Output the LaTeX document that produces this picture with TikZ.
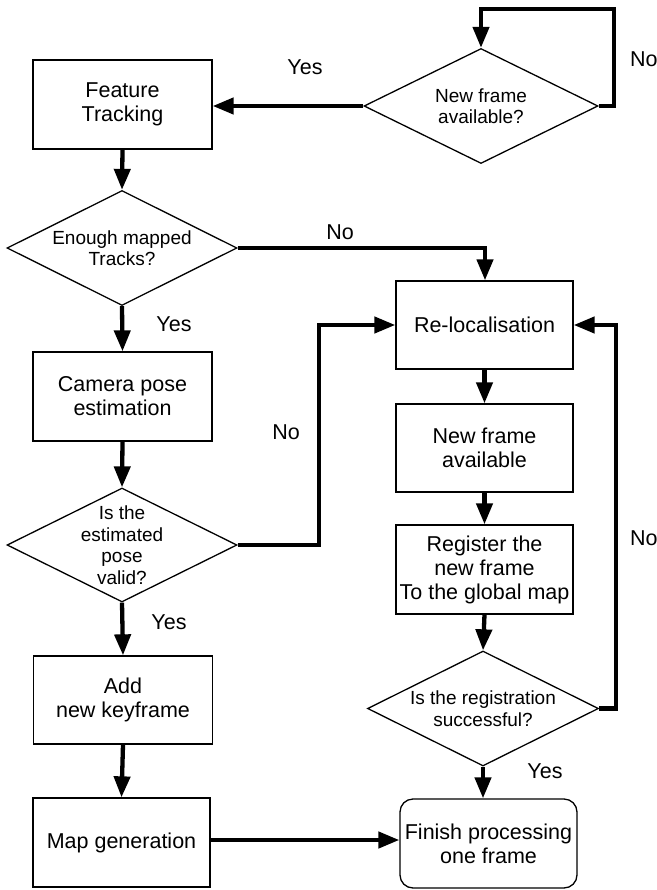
\documentclass[tikz,border=0pt]{standalone}
\usepackage{fontspec}
\setmainfont{Liberation Sans}
\usetikzlibrary{arrows.meta,shapes.geometric,calc}
\tikzset{
  boxnode/.style={draw, line width=1.3pt, minimum width=179pt, minimum height=89pt, align=center, inner sep=0pt,
    font=\fontsize{21.5}{24}\selectfont},
  roundbox/.style={boxnode, rounded corners=13pt},
  dianode/.style={draw, diamond, line width=1.3pt, inner sep=0pt, aspect=2},
  diatext/.style={align=center, inner sep=0pt, font=\fontsize{19}{21.5}\selectfont},
  lab/.style={inner sep=0pt, font=\fontsize{21.5}{24}\selectfont},
  arr/.style={line width=4.3pt, -{Triangle[length=21pt,width=16pt]}},
}
\begin{document}
\begin{tikzpicture}[x=1pt,y=-1pt]
\useasboundingbox (0,0) rectangle (656,890);
\fill[white] (0,0) rectangle (656,890);

% nodes
\node[boxnode] (ft) at (122.5,104.5) {Feature\\Tracking};
\node[dianode, minimum width=234pt, minimum height=115pt] (nf) at (481,106) {};
\node[diatext] (nft) at (nf.center) {New frame\\available?};
\node[dianode, minimum width=230pt, minimum height=115pt] (em) at (122,248) {};
\node[diatext] (emt) at (em.center) {Enough mapped\\Tracks?};
\node[boxnode] (cp) at (122.5,396.5) {Camera pose\\estimation};
\node[dianode, minimum width=230pt, minimum height=114pt] (ev) at (122,545) {};
\node[diatext] (evt) at (ev.center) {Is the\\estimated\\pose\\valid?};
\node[boxnode, minimum height=88pt] (ak) at (123,700) {Add\\new keyframe};
\node[boxnode, minimum width=177pt] (mg) at (121.5,842.5) {Map generation};
\node[boxnode, minimum width=177pt, minimum height=88pt] (rl) at (484.5,325) {Re-localisation};
\node[boxnode, minimum width=177pt, minimum height=88pt] (na) at (484.5,448) {New frame\\available};
\node[boxnode, minimum width=177pt, minimum height=89pt] (rg) at (484.5,569.5) {Register the\\new frame\\To the global map};
\node[dianode, minimum width=231pt, minimum height=115pt] (rs) at (483,708.5) {};
\node[diatext] (rst) at (rs.center) {Is the registration\\successful?};
\node[roundbox, minimum width=177pt, minimum height=89pt] (fin) at (488.5,843.5) {Finish processing\\one frame};

\coordinate (nftop) at (481,9);
\coordinate (emx) at (485,248);

% connectors
\draw[arr] (nf.east) -- ++(15,0) |- (nftop) -- (nf.north);
\draw[arr] (nf.west) -- (ft.east |- nf.west);
\draw[arr] (ft.south) -- (em.north);
\draw[arr] (em.east) -- (emx) -- (rl.north -| emx);
\draw[arr] (em.south) -- (cp.north);
\draw[arr] (cp.south) -- (ev.north);
\draw[arr] (ev.east) -- ++(81,0) |- (rl.west);
\draw[arr] (ev.south) -- (ak.north);
\draw[arr] (ak.south) -- (mg.north);
\draw[arr] (mg.east |- 0,840) -- (fin.west |- 0,840);
\draw[arr] (rl.south) -- (na.north);
\draw[arr] (na.south) -- (rg.north);
\draw[arr] (rg.south) -- (rs.north);
\draw[arr] (rs.east) -- ++(17,0) |- (rl.east);
\draw[arr] (rs.south) -- (rs.south |- fin.north);

% labels
\node[lab, anchor=west] (l1) at (630,59) {No};
\node[lab] (l2) at (305,67) {Yes};
\node[lab] (l3) at (340,232) {No};
\node[lab] (l4) at (174,324) {Yes};
\node[lab] (l5) at (286,432) {No};
\node[lab] (l6) at (169,622) {Yes};
\node[lab, anchor=west] (l7) at (630,538) {No};
\node[lab] (l8) at (545,771) {Yes};
\end{tikzpicture}
\end{document}
